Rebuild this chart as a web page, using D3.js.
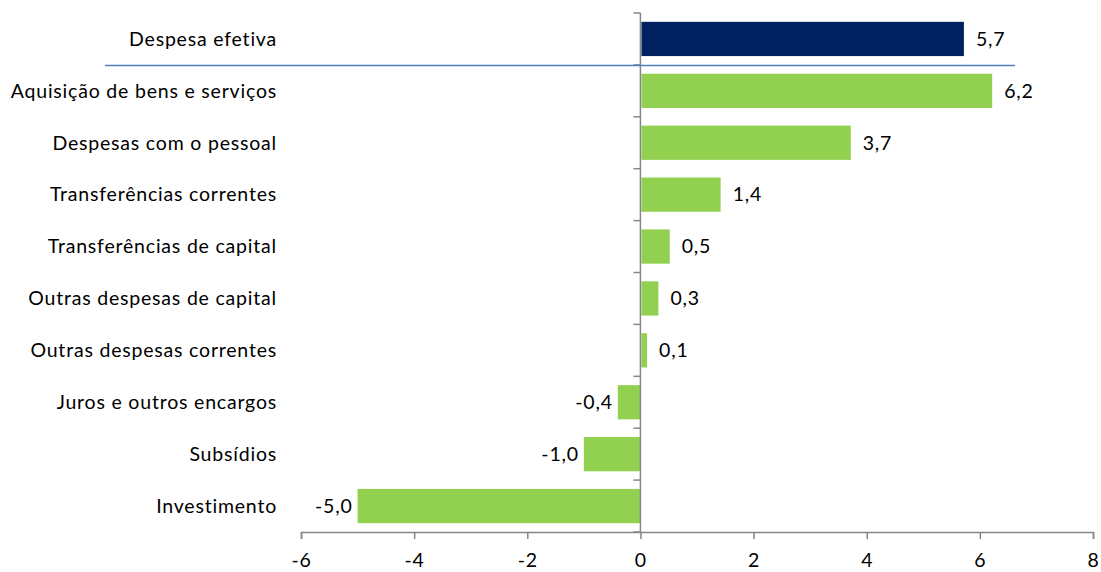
<!DOCTYPE html>
<html><head><meta charset="utf-8">
<script src="https://cdn.jsdelivr.net/npm/d3@7"></script>
<style>body{margin:0;background:#fff}text{font-family:Lato,"Open Sans",sans-serif;fill:#000}</style>
</head><body><svg id="c" width="1101" height="572"></svg>
<script>
const categories = ["Despesa efetiva","Aquisição de bens e serviços","Despesas com o pessoal","Transferências correntes","Transferências de capital","Outras despesas de capital","Outras despesas correntes","Juros e outros encargos","Subsídios","Investimento"];
const values = [5.7,6.2,3.7,1.4,0.5,0.3,0.1,-0.4,-1.0,-5.0];
const xTicks = [-6,-4,-2,0,2,4,6,8];

const svg = d3.select("#c");
const x = d3.scaleLinear().domain([-6,8]).range([301,1093]);
const y = d3.scaleBand().domain(categories).range([13,532]).paddingInner(0.34).paddingOuter(0.17);
const fmt = v => d3.format(".1f")(v).replace(".",",").replace("−","-");
const axisColor = "#868686";
const fs = "19.5px", ls = "0.8px";

// bars
svg.selectAll("rect.bar").data(values).join("rect")
  .attr("x",(d)=>d>=0?x(0)+1:x(d))
  .attr("width",d=>Math.abs(x(d)-x(0)))
  .attr("y",(d,i)=>y(categories[i]))
  .attr("height",y.bandwidth())
  .attr("fill",(d,i)=>i===0?"#002060":"#92d050");

// x axis
const xa = svg.append("g").attr("transform","translate(0,532)")
  .call(d3.axisBottom(x).tickValues(xTicks).tickSize(7).tickPadding(14).tickFormat(d=>String(d)));
xa.select(".domain").attr("stroke",axisColor).attr("stroke-width",1.5);
xa.selectAll("line").attr("stroke",axisColor).attr("stroke-width",1.5);
xa.selectAll("text").style("font-size",fs).style("letter-spacing",ls).attr("fill","#000");

// vertical axis at 0
const step = y.step();
const bounds = d3.range(categories.length+1).map(i=>13+i*step);
svg.append("line").attr("x1",x(0)).attr("x2",x(0)).attr("y1",13).attr("y2",532)
  .attr("stroke",axisColor).attr("stroke-width",1.5);
svg.selectAll("line.yt").data(bounds).join("line")
  .attr("x1",x(0)-7).attr("x2",x(0)).attr("y1",d=>d).attr("y2",d=>d)
  .attr("stroke",axisColor).attr("stroke-width",1.5);

// category labels
svg.selectAll("text.cat").data(categories).join("text")
  .attr("x",277).attr("y",d=>y(d)+y.bandwidth()/2).attr("dy","0.35em")
  .attr("text-anchor","end").style("font-size",fs).style("letter-spacing",ls).text(d=>d);

// value labels
svg.selectAll("text.val").data(values).join("text")
  .attr("x",d=>d>=0?x(d)+13:x(d)-5)
  .attr("y",(d,i)=>y(categories[i])+y.bandwidth()/2).attr("dy","0.35em")
  .attr("text-anchor",d=>d>=0?"start":"end").style("font-size",fs).style("letter-spacing",ls).text(fmt);

// separator line
svg.append("line").attr("x1",105).attr("x2",1015).attr("y1",65.5).attr("y2",65.5)
  .attr("stroke","#4f81bd").attr("stroke-width",1.5);
</script></body></html>
